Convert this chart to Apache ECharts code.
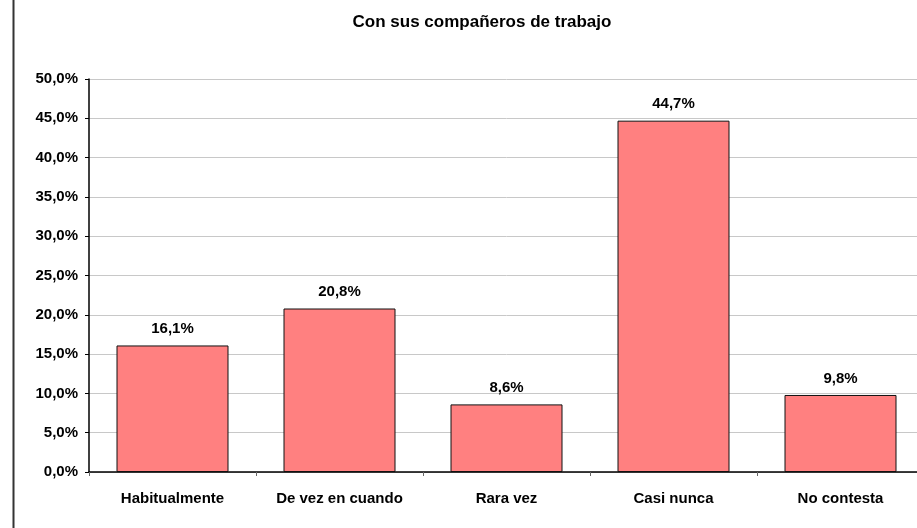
<!DOCTYPE html>
<html>
<head>
<meta charset="utf-8">
<script src="https://cdn.jsdelivr.net/npm/echarts@6/dist/echarts.min.js"></script>
<style>
  html, body { margin: 0; padding: 0; background: #fff; overflow: hidden; }
  /* el area de grafico sobresale un poco por la derecha, como en el original */
  #chart { width: 924px; height: 528px; }
</style>
</head>
<body>
<div id="chart"></div>
<script>
// categorias y valores (%)
var categorias = ['Habitualmente', 'De vez en cuando', 'Rara vez', 'Casi nunca', 'No contesta']
var valores = [16.1, 20.8, 8.6, 44.7, 9.8]
var titulo = 'Con sus compañeros de trabajo'

function fmt(v) {
  return v.toFixed(1).replace('.', ',') + '%'
}

var chart = echarts.init(document.getElementById('chart'))
var fuente = '"Liberation Sans", Arial, sans-serif'

var option = {
  animation: false,
  backgroundColor: '#fff',
  title: {
    text: titulo,
    left: 477,
    top: 9,
    textAlign: 'center',
    textStyle: { fontFamily: fuente, fontSize: 17, fontWeight: 'bold', color: '#000' }
  },
  // linea del borde izquierdo
  graphic: [
    { type: 'line', shape: { x1: 13.5, y1: 0, x2: 13.5, y2: 528 }, style: { stroke: '#333', lineWidth: 2 } }
  ],
  grid: { left: 89, right: 0, top: 79, bottom: 56, containLabel: false },
  xAxis: {
    type: 'category',
    data: categorias,
    axisLine: { lineStyle: { color: '#000', width: 1.5 } },
    axisTick: { show: true, alignWithLabel: false, length: 4, lineStyle: { color: '#666' } },
    axisLabel: { fontFamily: fuente, fontSize: 15, fontWeight: 'bold', color: '#000', margin: 19, interval: 0 }
  },
  yAxis: {
    type: 'value',
    min: 0,
    max: 50,
    interval: 5,
    axisLine: { show: true, lineStyle: { color: '#000', width: 1.5 } },
    axisTick: { show: true, length: 4, lineStyle: { color: '#000' } },
    splitLine: { lineStyle: { color: '#c8c8c8', width: 1 } },
    axisLabel: {
      fontFamily: fuente, fontSize: 15, fontWeight: 'bold', color: '#000', margin: 11,
      formatter: function (v) { return fmt(v) }
    }
  },
  series: [
    {
      type: 'bar',
      data: valores,
      barWidth: 112,
      itemStyle: { color: '#ff8080', borderColor: '#111', borderWidth: 1 },
      label: {
        show: true,
        position: 'top',
        distance: 9,
        fontFamily: fuente, fontSize: 15, fontWeight: 'bold', color: '#000',
        formatter: function (p) { return fmt(p.value) }
      }
    }
  ]
}
chart.setOption(option)
</script>
</body>
</html>
